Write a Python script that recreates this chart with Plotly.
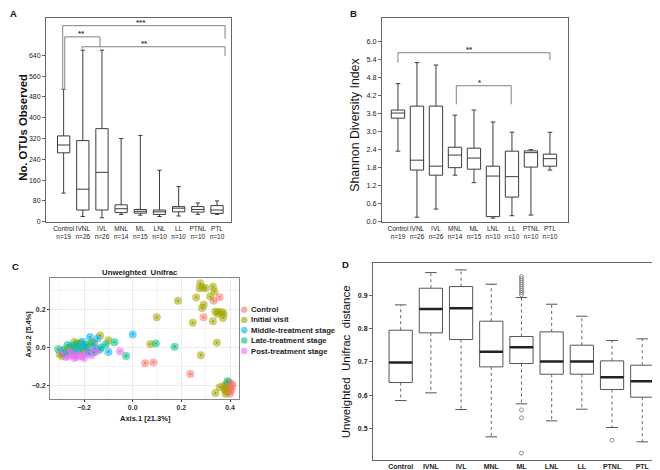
import plotly.graph_objects as go

W, H = 660, 470
def px(x): return x / W
def py(y): return 1 - y / H

cats = ["Control", "IVNL", "IVL", "MNL", "ML", "LNL", "LL", "PTNL", "PTL"]
n_ab = [19, 26, 26, 14, 15, 10, 10, 10, 10]
xs = list(range(len(cats)))

# Panel A: No. OTUs observed
otu_low = [110, 20, 15, 28, 25, 20, 22, 28, 28]
otu_q1 = [265, 45, 45, 35, 33, 28, 38, 37, 32]
otu_med = [295, 125, 190, 50, 40, 38, 52, 47, 45]
otu_q3 = [330, 312, 358, 65, 47, 45, 58, 58, 62]
otu_high = [510, 660, 660, 320, 332, 198, 135, 72, 80]
otu_ticks = [0, 80, 160, 240, 320, 400, 480, 560, 640]

# Panel B: Shannon diversity
sh_low = [2.35, 0.15, 0.42, 1.55, 1.30, 0.12, 0.20, 0.22, 1.72]
sh_q1 = [3.45, 1.72, 1.55, 1.80, 1.75, 0.17, 0.82, 1.82, 1.85]
sh_med = [3.62, 2.05, 1.85, 2.22, 2.12, 1.52, 1.50, 2.30, 2.10]
sh_q3 = [3.72, 3.85, 3.85, 2.48, 2.45, 1.85, 2.35, 2.36, 2.25]
sh_high = [4.60, 5.30, 5.22, 3.55, 3.72, 3.32, 2.98, 2.40, 2.98]
sh_ticks = [0.0, 0.6, 1.2, 1.8, 2.4, 3.0, 3.6, 4.2, 4.8, 5.4, 6.0]

# Panel C: PCoA (Unweighted Unifrac)
groups = ["Control", "Initial visit", "Middle-treatment stage", "Late-treatment stage", "Post-treatment stage"]
colors = ["#F8766D", "#A3A500", "#00B0F6", "#00BF7D", "#E76BF3"]
ctrl_x = [0.357, 0.333, 0.291, 0.051, 0.085, 0.237, 0.395, 0.408, 0.402, 0.399, 0.388, 0.404,
          0.385, 0.392, 0.398, 0.410, 0.380, 0.395, 0.386]
ctrl_y = [0.265, 0.246, 0.159, -0.082, -0.078, -0.139, -0.182, -0.191, -0.217, -0.243, -0.234, -0.229,
          -0.200, -0.210, -0.195, -0.205, -0.220, -0.225, -0.190]
init_x = [0.278, 0.289, 0.299, 0.275, 0.330, 0.336, 0.319, 0.261, 0.186, 0.292, 0.285, 0.340, 0.353,
          0.367, 0.374, 0.349, 0.371, 0.099, 0.247, 0.330, 0.072, 0.346, 0.280, 0.340, 0.357, 0.378,
          0.386, 0.390, 0.382, 0.374, -0.134, -0.100, -0.158, -0.227, -0.300, -0.280, -0.260, -0.240,
          -0.215, -0.200, -0.185, -0.170, -0.250, -0.290]
init_y = [0.338, 0.315, 0.312, 0.312, 0.320, 0.294, 0.268, 0.263, 0.246, 0.225, 0.208, 0.190, 0.187,
          0.187, 0.177, 0.177, 0.156, 0.159, 0.130, 0.138, 0.017, 0.026, -0.040, -0.239, -0.208, -0.217,
          -0.227, -0.206, -0.243, -0.200, 0.064, 0.038, 0.026, 0.017, -0.035, -0.010, 0.000, 0.030,
          0.025, -0.020, 0.000, 0.030, -0.025, -0.045]
mid_x = [0.000, -0.100, -0.144, -0.176, -0.207, -0.200, -0.190, -0.165, -0.155, -0.130, -0.220,
         -0.235, -0.180, -0.250, -0.285, -0.270]
mid_y = [0.069, -0.023, 0.048, 0.055, 0.031, 0.010, -0.010, 0.020, -0.005, 0.000, 0.000,
         -0.020, -0.030, 0.010, -0.015, -0.030]
late_x = [0.095, 0.172, 0.390, -0.075, -0.111, -0.027, -0.306, -0.268, -0.245, -0.215, -0.190,
          -0.135, -0.230, -0.280, -0.160]
late_y = [0.021, 0.005, -0.177, 0.028, 0.016, -0.044, -0.009, 0.014, -0.005, -0.015, 0.015,
          -0.010, 0.020, -0.035, -0.025]
post_x = [-0.052, -0.148, -0.265, -0.290, -0.275, -0.250, -0.240, -0.225, -0.210, -0.195, -0.170,
          -0.160, -0.255, -0.200, -0.230]
post_y = [-0.021, -0.021, -0.044, -0.030, -0.050, -0.040, -0.055, -0.035, -0.045, -0.030, -0.040,
          -0.015, -0.020, -0.055, -0.050]
pcoa_x = [ctrl_x, init_x, mid_x, late_x, post_x]
pcoa_y = [ctrl_y, init_y, mid_y, late_y, post_y]

# Panel D: Unweighted Unifrac distance
d_low = [0.584, 0.607, 0.557, 0.475, 0.574, 0.523, 0.558, 0.503, 0.460]
d_q1 = [0.638, 0.787, 0.767, 0.685, 0.695, 0.663, 0.663, 0.617, 0.594]
d_med = [0.698, 0.859, 0.861, 0.730, 0.744, 0.701, 0.701, 0.654, 0.642]
d_q3 = [0.795, 0.921, 0.926, 0.822, 0.776, 0.790, 0.750, 0.703, 0.690]
d_high = [0.871, 0.968, 0.976, 0.933, 0.893, 0.873, 0.837, 0.764, 0.769]
d_out_cat = ["ML"] * 13 + ["PTNL"]
d_out_val = [0.902, 0.908, 0.914, 0.920, 0.926, 0.932, 0.938, 0.944, 0.950, 0.956,
             0.556, 0.532, 0.426, 0.465]
d_ticks = [0.5, 0.6, 0.7, 0.8, 0.9]

FONT = "Arial, Liberation Sans, sans-serif"
LINE = "#3c3c3c"
fig = go.Figure()

# ---- Panel A
fig.add_trace(go.Box(x=xs, q1=otu_q1, median=otu_med, q3=otu_q3, lowerfence=otu_low,
                     upperfence=otu_high, width=0.64, whiskerwidth=0.35, fillcolor="white",
                     line=dict(color=LINE, width=1), boxpoints=False, showlegend=False,
                     hoverinfo="skip", xaxis="x", yaxis="y"))
# ---- Panel B
fig.add_trace(go.Box(x=xs, q1=sh_q1, median=sh_med, q3=sh_q3, lowerfence=sh_low,
                     upperfence=sh_high, width=0.7, whiskerwidth=0.35, fillcolor="white",
                     line=dict(color=LINE, width=1), boxpoints=False, showlegend=False,
                     hoverinfo="skip", xaxis="x2", yaxis="y2"))
# ---- Panel C
for g, c, gx, gy in zip(groups, colors, pcoa_x, pcoa_y):
    fig.add_trace(go.Scatter(x=gx, y=gy, mode="markers", name=g, showlegend=False,
                             marker=dict(size=8, color=c, opacity=0.55, line=dict(width=0)),
                             xaxis="x3", yaxis="y3", hoverinfo="skip"))
for g, c, gx, gy in zip(groups, colors, pcoa_x, pcoa_y):
    fig.add_trace(go.Scatter(x=gx, y=gy, mode="markers", showlegend=False,
                             marker=dict(size=2.2, color=c, opacity=1),
                             xaxis="x3", yaxis="y3", hoverinfo="skip"))
# ---- Panel D
fig.add_trace(go.Box(x=xs, q1=d_q1, median=d_med, q3=d_q3, lowerfence=d_q1, upperfence=d_q3,
                     width=0.77, whiskerwidth=0, fillcolor="white",
                     line=dict(color="#555555", width=1), boxpoints=False, showlegend=False,
                     hoverinfo="skip", xaxis="x4", yaxis="y4"))
wx, wy, cx, cy, mx, my = [], [], [], [], [], []
for i in xs:
    wx += [i, i, None, i, i, None]
    wy += [d_q3[i], d_high[i], None, d_q1[i], d_low[i], None]
    cx += [i - 0.19, i + 0.19, None, i - 0.19, i + 0.19, None]
    cy += [d_high[i], d_high[i], None, d_low[i], d_low[i], None]
    mx += [i - 0.385, i + 0.385, None]
    my += [d_med[i], d_med[i], None]
fig.add_trace(go.Scatter(x=wx, y=wy, mode="lines", line=dict(color="#666666", width=1, dash="dot"),
                         showlegend=False, hoverinfo="skip", xaxis="x4", yaxis="y4"))
fig.add_trace(go.Scatter(x=cx, y=cy, mode="lines", line=dict(color="#555555", width=1),
                         showlegend=False, hoverinfo="skip", xaxis="x4", yaxis="y4"))
fig.add_trace(go.Scatter(x=mx, y=my, mode="lines", line=dict(color="#222222", width=2.5),
                         showlegend=False, hoverinfo="skip", xaxis="x4", yaxis="y4"))
fig.add_trace(go.Scatter(x=[cats.index(c) for c in d_out_cat], y=d_out_val, mode="markers",
                         marker=dict(symbol="circle-open", size=4, color="#777777", line=dict(width=0.8)),
                         showlegend=False, hoverinfo="skip", xaxis="x4", yaxis="y4"))

frame = dict(showline=True, mirror=True, linecolor="#666666", linewidth=1, showgrid=False,
             zeroline=False)
lab = [f"{c}<br>n={n}" for c, n in zip(cats, n_ab)]
fig.update_layout(
    width=W, height=H, margin=dict(l=0, r=0, t=0, b=0),
    paper_bgcolor="white", plot_bgcolor="white", font=dict(family=FONT, color="#222222"),
    xaxis=dict(domain=[px(38), px(223)], range=[-0.92, 8.73], tickmode="array", tickvals=xs,
               ticktext=lab, ticks="", tickangle=0, tickfont=dict(size=6.5), anchor="y", **frame),
    yaxis=dict(domain=[py(216), py(10)], range=[0, 784], tickmode="array", tickvals=otu_ticks,
               ticks="outside", ticklen=3, tickcolor="#666666", tickfont=dict(size=7), anchor="x", **frame),
    xaxis2=dict(domain=[px(374), px(560)], range=[-0.84, 8.95], tickmode="array", tickvals=xs,
                ticktext=lab, ticks="", tickangle=0, tickfont=dict(size=6.5), anchor="y2", **frame),
    yaxis2=dict(domain=[py(216), py(10)], range=[0, 6.79], tickmode="array", tickvals=sh_ticks,
                ticktext=[f"{v:.1f}" for v in sh_ticks], ticks="outside", ticklen=3,
                tickcolor="#666666", tickfont=dict(size=7.3), anchor="x2", **frame),
    xaxis3=dict(domain=[px(42), px(231)], range=[-0.34, 0.437], tickmode="linear", tick0=0, dtick=0.2,
                tickformat=".1f", ticks="outside", ticklen=2, tickcolor="#333333", tickangle=0,
                tickfont=dict(size=7, color="#333333", weight="bold"), showline=True, mirror=True,
                linecolor="#888888", linewidth=1, zeroline=False, showgrid=True, gridcolor="#EBEBEB",
                gridwidth=0.8, minor=dict(dtick=0.1, showgrid=True, gridcolor="#F4F4F4", gridwidth=0.5),
                anchor="y3"),
    yaxis3=dict(domain=[py(395), py(273)], range=[-0.269, 0.365], tickmode="linear", tick0=0, dtick=0.2,
                tickformat=".1f", ticks="outside", ticklen=2, tickcolor="#333333",
                tickfont=dict(size=7, color="#333333", weight="bold"), showline=True, mirror=True,
                linecolor="#888888", linewidth=1, zeroline=False, showgrid=True, gridcolor="#EBEBEB",
                gridwidth=0.8, minor=dict(dtick=0.1, showgrid=True, gridcolor="#F4F4F4", gridwidth=0.5),
                anchor="x3"),
    xaxis4=dict(domain=[px(365), px(659)], range=[-0.917, 8.82], tickmode="array", tickvals=xs,
                ticktext=cats, ticks="", tickangle=0, tickfont=dict(size=7, weight="bold"), anchor="y4", **frame),
    yaxis4=dict(domain=[py(456.7), py(257.3)], range=[0.406, 0.998], tickmode="array", tickvals=d_ticks,
                ticktext=[f"{v:.1f}" for v in d_ticks], ticks="outside", ticklen=3, tickcolor="#666666",
                tickfont=dict(size=7, weight="bold"), anchor="x4", **frame),
)

shapes = []
ann = []
BR = dict(color="#808080", width=1)
def bracket(xr, yr, x0, x1, y, y0, y1):
    shapes.append(dict(type="path", xref=xr, yref=yr,
                       path=f"M {x0},{y0} L {x0},{y} L {x1},{y} L {x1},{y1}", line=BR))
# A brackets
bracket("x", "y", -0.05, 8.42, 754, 515, 704)
bracket("x", "y", 0.06, 1.9, 711, 515, 673)
bracket("x", "y", 0.96, 8.42, 673, 665, 637)
for tx, ty, t in [(4.05, 754, "***"), (0.95, 711, "**"), (4.2, 673, "**")]:
    ann.append(dict(x=tx, y=ty, xref="x", yref="y", text=f"<b>{t}</b>", showarrow=False,
                    yanchor="bottom", yshift=-3, font=dict(size=8, color="#333333")))
# B brackets
bracket("x2", "y2", 0, 8, 5.63, 5.3, 5.38)
bracket("x2", "y2", 3.07, 5.96, 4.53, 3.91, 3.91)
for tx, ty, t in [(3.77, 5.63, "**"), (4.3, 4.53, "*")]:
    ann.append(dict(x=tx, y=ty, xref="x2", yref="y2", text=f"<b>{t}</b>", showarrow=False,
                    yanchor="bottom", yshift=-3, font=dict(size=8, color="#333333")))

# C legend (manual)
leg_y = [305, 315.3, 325.7, 336, 346.7]
for g, c, yy in zip(groups, colors, leg_y):
    shapes.append(dict(type="circle", xref="paper", yref="paper", x0=px(233), x1=px(239.5),
                       y0=py(yy + 3.2), y1=py(yy - 3.2), fillcolor=c, opacity=0.6, line=dict(width=0)))
    ann.append(dict(x=px(240.5), y=py(yy), xref="paper", yref="paper", text=f"<b>{g}</b>",
                    showarrow=False, xanchor="left", yanchor="middle",
                    font=dict(size=7.7, color="#222222")))

# titles / labels
def ptxt(x, y, t, size, angle=0, bold=False, color="#111111"):
    ann.append(dict(x=px(x), y=py(y), xref="paper", yref="paper",
                    text=f"<b>{t}</b>" if bold else t, showarrow=False, textangle=angle,
                    xanchor="center", yanchor="middle", font=dict(size=size, color=color)))
ptxt(5, 6, "A", 9.5, bold=True)
ptxt(345, 6, "B", 9.5, bold=True)
ptxt(7, 261, "C", 9.5, bold=True)
ptxt(337, 259, "D", 9.5, bold=True)
ptxt(15, 121, "No. OTUs Observed", 11.3, angle=-90, bold=True)
ptxt(347, 118, "Shannon Diversity Index", 12.3, angle=-90)
ptxt(20, 330, "Axis.2 [5.4%]", 7.5, angle=-90, bold=True, color="#222222")
ptxt(137, 415, "Axis.1 [21.3%]", 7.5, bold=True, color="#222222")
ptxt(132, 267, "Unweighted  Unifrac", 7.8, bold=True, color="#222222")
ptxt(338, 358, "Unweighted  Unifrac  distance", 11.5, angle=-90)

fig.update_layout(shapes=shapes, annotations=ann)
fig.write_html("out.html")
